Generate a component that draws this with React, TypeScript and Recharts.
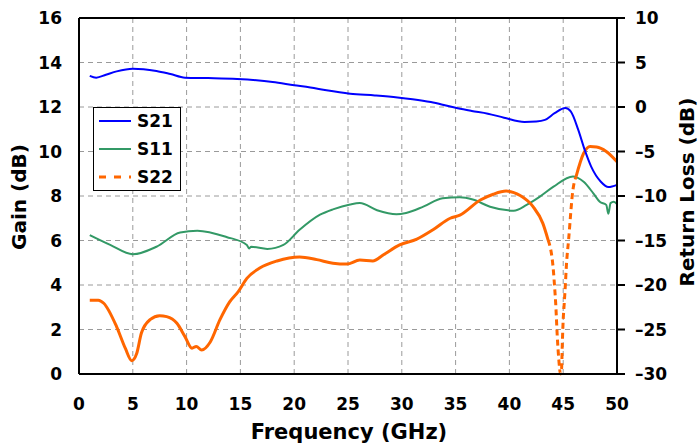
import { LineChart, Line, XAxis, YAxis, CartesianGrid, ReferenceLine, Label } from "recharts";

const FONT = "'DejaVu Sans', Verdana, sans-serif";

const xTicks = [0, 5, 10, 15, 20, 25, 30, 35, 40, 45, 50];
const gainTicks = [0, 2, 4, 6, 8, 10, 12, 14, 16];
const rlTicks = [-30, -25, -20, -15, -10, -5, 0, 5, 10];

// S21 gain (dB), left axis
const s21Freq = [1, 1.6, 2.5, 3.5, 5, 6, 7.2, 8.5, 9.85, 12, 14.7, 16.5, 18, 20, 21.5, 23, 25.2, 27.5, 29.6, 31, 32.7, 34, 35.2, 36.5, 38, 39.5, 41.4, 42.5, 43.3, 44.2, 45.2, 45.7, 46.4, 47, 47.6, 48.5, 49.2, 50];
const s21Gain = [13.4, 13.32, 13.45, 13.6, 13.72, 13.7, 13.62, 13.48, 13.32, 13.3, 13.26, 13.2, 13.12, 12.98, 12.88, 12.75, 12.6, 12.52, 12.43, 12.35, 12.22, 12.08, 11.94, 11.82, 11.7, 11.52, 11.33, 11.35, 11.42, 11.72, 11.95, 11.8, 10.97, 10.07, 9.32, 8.64, 8.4, 8.5];

// S11 return loss (dB), right axis
const s11Freq = [1, 2.9, 5, 7.2, 9.4, 11, 13.7, 15.6, 15.8, 16, 17.5, 19, 20.5, 22.4, 23.6, 25.2, 26.1, 27.7, 29.5, 30.4, 32, 33.8, 35.4, 36.6, 38.2, 40.4, 41.6, 42.8, 44.1, 45.9, 46.9, 47.8, 48.4, 49, 49.2, 49.4, 49.7, 50];
const s11RL = [-14.4, -15.5, -16.55, -15.7, -14.1, -13.9, -14.6, -15.5, -15.9, -15.7, -15.95, -15.5, -13.8, -12.1, -11.5, -10.95, -10.8, -11.6, -12.05, -11.9, -11.2, -10.25, -10.15, -10.4, -11.2, -11.65, -11.0, -10.1, -8.95, -7.8, -8.4, -9.7, -10.65, -11.0, -12.0, -10.8, -10.65, -10.9];

// S22 return loss (dB), right axis
const s22Freq = [1, 1.8, 2.3, 3.5, 4.3, 4.9, 5.36, 5.8, 6.6, 7.5, 8.15, 9.1, 9.85, 10.5, 10.9, 11.4, 12.2, 13.1, 14, 14.8, 15.6, 16.8, 18.4, 20.5, 22.1, 23.6, 24.9, 26.1, 27.3, 28.3, 29.8, 31.4, 32.9, 34.5, 35.4, 37.3, 38.5, 39.7, 41, 42.2, 43.1, 43.6, 44.1, 44.2, 44.3, 44.45, 44.6, 44.75, 44.85, 44.92, 45.0, 45.1, 45.2, 45.3, 45.5, 45.9, 46.2, 46.9, 47.5, 48.1, 49, 50];
const s22RL = [-21.7, -21.7, -22.05, -24.7, -27.1, -28.5, -27.7, -25.4, -23.9, -23.45, -23.55, -24.3, -25.8, -27.1, -26.9, -27.3, -26.4, -23.9, -21.9, -20.75, -19.25, -18.1, -17.3, -16.85, -17.15, -17.55, -17.65, -17.2, -17.3, -16.6, -15.5, -14.85, -13.8, -12.5, -12.15, -10.45, -9.8, -9.45, -9.95, -11.2, -13.05, -14.95, -18.55, -20.2, -22.0, -25.8, -28.5, -30, -29.4, -26.5, -23.9, -22.0, -20, -17.75, -14.95, -9.35, -7.8, -5.2, -4.45, -4.5, -5.0, -6.15];

// the steep notch is drawn dashed
const DIP_START = 43.6;
const DIP_END = 46.2;

const rows = (freq: number[], vals: number[]) => freq.map((f, i) => ({ f, v: vals[i] }));

const s21Rows = rows(s21Freq, s21Gain);
const s11Rows = rows(s11Freq, s11RL);
const s22Rows = rows(s22Freq, s22RL);
const s22Before = s22Rows.filter((r) => r.f <= DIP_START);
const s22Dip = s22Rows.filter((r) => r.f >= DIP_START && r.f <= DIP_END);
const s22After = s22Rows.filter((r) => r.f >= DIP_END);

const tickStyle = { fill: "#000", fontSize: 17, fontWeight: 700, fontFamily: FONT };
const titleStyle = { fill: "#000", fontSize: 20, fontWeight: 700, fontFamily: FONT };

const fmtRL = (v: number) => (v < 0 ? `–${-v}` : `${v}`);

const legendItems = [
  { name: "S21", color: "#0000FF", width: 2, dash: undefined },
  { name: "S11", color: "#339966", width: 2, dash: undefined },
  { name: "S22", color: "#FF6600", width: 3, dash: "7 8" },
];

function ChartLegend() {
  return (
    <div
      style={{
        position: "absolute",
        left: 93,
        top: 107,
        width: 88,
        height: 84,
        boxSizing: "border-box",
        border: "1.5px solid #000",
        background: "#fff",
      }}
    >
      {legendItems.map((item, i) => (
        <div
          key={item.name}
          style={{ position: "absolute", left: 0, top: i * 28, height: 28, width: 86 }}
        >
          <svg width={40} height={28} style={{ position: "absolute", left: 0, top: 0 }}>
            <line
              x1={5}
              x2={37}
              y1={13}
              y2={13}
              stroke={item.color}
              strokeWidth={item.width}
              strokeDasharray={item.dash}
            />
          </svg>
          <span
            style={{
              position: "absolute",
              left: 43,
              top: 3,
              fontFamily: FONT,
              fontWeight: 700,
              fontSize: 17,
              lineHeight: "20px",
              color: "#000",
            }}
          >
            {item.name}
          </span>
        </div>
      ))}
    </div>
  );
}

export default function App() {
  return (
    <div style={{ position: "absolute", left: 0, top: 0, width: 698, height: 443, background: "#fff" }}>
      <LineChart width={698} height={443} margin={{ top: 18, right: 0, bottom: 0, left: 0 }}>
        <CartesianGrid yAxisId="left" stroke="#9a9a9a" strokeDasharray="5 4" />
        <XAxis
          dataKey="f"
          type="number"
          domain={[0, 50]}
          ticks={xTicks}
          height={69}
          tickSize={0}
          tickMargin={24}
          tick={tickStyle}
          axisLine={{ stroke: "#000", strokeWidth: 2 }}
          allowDuplicatedCategory={false}
        >
          <Label
            content={() => (
              <text x={349} y={439} textAnchor="middle" style={{ ...titleStyle, fontSize: 21 }}>
                Frequency (GHz)
              </text>
            )}
          />
        </XAxis>
        <YAxis
          yAxisId="left"
          domain={[0, 16]}
          ticks={gainTicks}
          width={79}
          tickSize={0}
          tickMargin={17}
          tick={tickStyle}
          axisLine={{ stroke: "#000", strokeWidth: 2 }}
        >
          <Label
            content={() => (
              <text
                x={19}
                y={197}
                textAnchor="middle"
                dominantBaseline="central"
                transform="rotate(-90 19 197)"
                style={titleStyle}
              >
                Gain (dB)
              </text>
            )}
          />
        </YAxis>
        <YAxis
          yAxisId="right"
          orientation="right"
          domain={[-30, 10]}
          ticks={rlTicks}
          width={81}
          tickSize={8}
          tickMargin={10}
          tickFormatter={fmtRL}
          tick={tickStyle}
          tickLine={{ stroke: "#000", strokeWidth: 2 }}
          axisLine={{ stroke: "#000", strokeWidth: 2 }}
        >
          <Label
            content={() => (
              <text
                x={687}
                y={192}
                textAnchor="middle"
                dominantBaseline="central"
                transform="rotate(-90 687 192)"
                style={titleStyle}
              >
                Return Loss (dB)
              </text>
            )}
          />
        </YAxis>
        <ReferenceLine yAxisId="left" y={16} stroke="#000" strokeWidth={2} />

        <Line yAxisId="right" data={s11Rows} dataKey="v" type="monotone" stroke="#339966" strokeWidth={2} dot={false} isAnimationActive={false} />
        <Line yAxisId="right" data={s22Before} dataKey="v" type="monotone" stroke="#FF6600" strokeWidth={3} dot={false} isAnimationActive={false} />
        <Line yAxisId="right" data={s22Dip} dataKey="v" type="monotone" stroke="#FF6600" strokeWidth={3} strokeDasharray="6 4" dot={false} isAnimationActive={false} />
        <Line yAxisId="right" data={s22After} dataKey="v" type="monotone" stroke="#FF6600" strokeWidth={3} dot={false} isAnimationActive={false} />
        <Line yAxisId="left" data={s21Rows} dataKey="v" type="monotone" stroke="#0000FF" strokeWidth={2} dot={false} isAnimationActive={false} />
      </LineChart>
      <ChartLegend />
    </div>
  );
}
